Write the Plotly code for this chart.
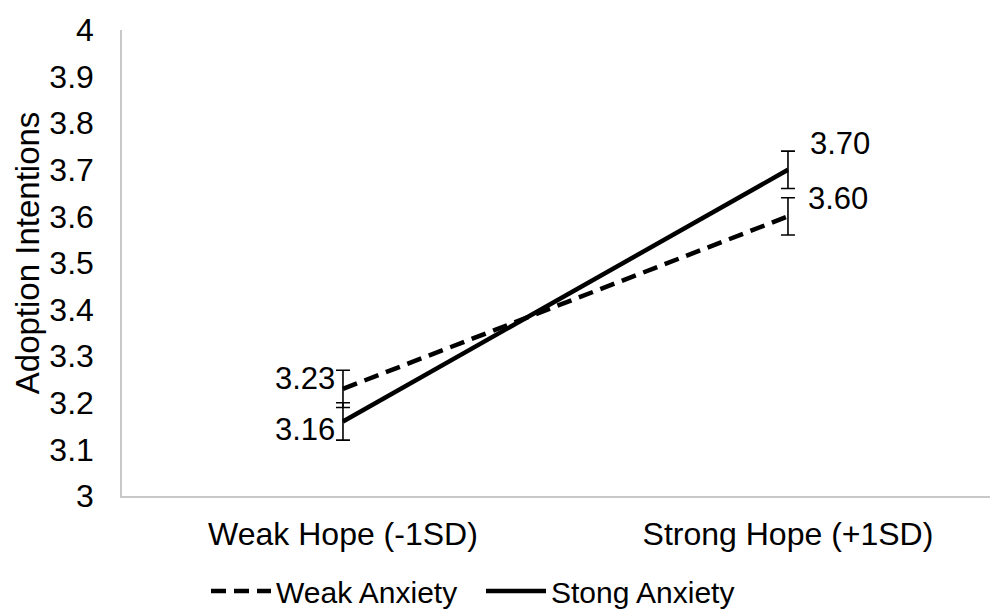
import plotly.graph_objects as go

categories = ["Weak Hope (-1SD)", "Strong Hope (+1SD)"]
weak_anxiety = [3.23, 3.60]
strong_anxiety = [3.16, 3.70]
weak_err = [0.04, 0.04]
strong_err = [0.04, 0.04]
y_ticks = [3, 3.1, 3.2, 3.3, 3.4, 3.5, 3.6, 3.7, 3.8, 3.9, 4]
y_ticktext = ["3", "3.1", "3.2", "3.3", "3.4", "3.5", "3.6", "3.7", "3.8", "3.9", "4"]
y_title = "Adoption Intentions"

FONT = "Liberation Sans, Arial, sans-serif"
xpos = list(range(len(categories)))

fig = go.Figure()
fig.add_trace(go.Scatter(
    x=xpos, y=weak_anxiety, name="Weak Anxiety", mode="lines",
    line=dict(color="black", width=4.5, dash="15px,8px"),
    error_y=dict(type="data", array=weak_err, color="black", thickness=1.6, width=7),
))
fig.add_trace(go.Scatter(
    x=xpos, y=strong_anxiety, name="Stong Anxiety", mode="lines",
    line=dict(color="black", width=4.5),
    error_y=dict(type="data", array=strong_err, color="black", thickness=1.6, width=7),
))

# data labels
shifts_weak = [(-38, 10), (50, 18)]
shifts_strong = [(-38, -8), (52, 26)]
for i, v in enumerate(weak_anxiety):
    fig.add_annotation(x=xpos[i], y=v, text=f"{v:.2f}", showarrow=False,
                       xshift=shifts_weak[i][0], yshift=shifts_weak[i][1],
                       font=dict(family=FONT, size=31, color="black"))
for i, v in enumerate(strong_anxiety):
    fig.add_annotation(x=xpos[i], y=v, text=f"{v:.2f}", showarrow=False,
                       xshift=shifts_strong[i][0], yshift=shifts_strong[i][1],
                       font=dict(family=FONT, size=31, color="black"))

# y-axis title (placed slightly above the plot's vertical centre, as in the reference)
fig.add_annotation(xref="paper", yref="paper", x=0, y=0.521, text=y_title,
                   textangle=-90, showarrow=False, xanchor="center", yanchor="middle",
                   xshift=-95, borderpad=0,
                   font=dict(family=FONT, size=33, color="black"))

# page body has an 8px default margin, so the figure is 8px smaller
fig.update_layout(
    width=990, height=602,
    margin=dict(l=114, r=0, t=22, b=114),
    paper_bgcolor="white", plot_bgcolor="white",
    font=dict(family=FONT, size=32, color="black"),
    showlegend=True,
    legend=dict(orientation="h", xref="container", yref="container",
                x=0.200, xanchor="left", y=0.0316, yanchor="middle",
                font=dict(size=30), itemwidth=60, entrywidth=200,
                entrywidthmode="pixels", bgcolor="rgba(0,0,0,0)"),
)
fig.update_xaxes(
    range=[-0.4966, 1.472], tickvals=xpos, ticktext=categories,
    showline=True, linecolor="#C8C8C8", linewidth=1.5, showgrid=False,
    zeroline=False, ticks="", ticklabelstandoff=9, automargin=False,
    tickfont=dict(size=32),
)
fig.update_yaxes(
    range=[3, 4], tickvals=y_ticks, ticktext=y_ticktext,
    showline=True, linecolor="#C8C8C8", linewidth=1.5, showgrid=False,
    zeroline=False, ticks="", ticklabelstandoff=20, automargin=False,
    tickfont=dict(size=32),
)

fig.write_html("out.html")
